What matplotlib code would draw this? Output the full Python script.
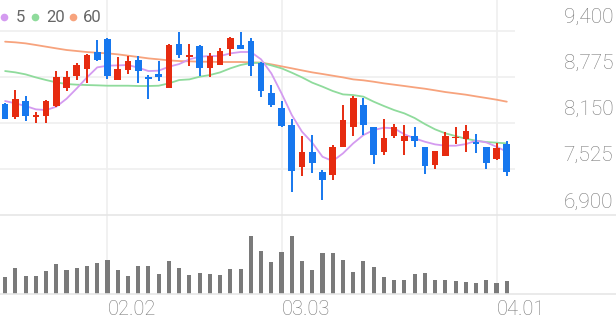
import matplotlib.pyplot as plt
from matplotlib.lines import Line2D
import numpy as np

plt.rcParams['font.family'] = ['Roboto', 'DejaVu Sans']

# --- Data (daily candles, oldest first) ---
opens = [8410, 8230, 8450, 8230, 8240, 8380, 8630, 8790, 8880, 9110,
         9290, 8730, 8870, 9010, 8780, 8810, 8630, 9220, 9050, 9200,
         8900, 8940, 9160, 9210, 9260, 8960, 8560, 8350, 8130, 7550,
         7760, 7490, 7450, 7830, 8090, 8400, 8090, 7760, 7980, 7900,
         7970, 7830, 7580, 7700, 7940, 7930, 7890, 7830, 7660, 7870]
highs = [8420, 8600, 8520, 8300, 8460, 8860, 8860, 8960, 9090, 9280,
         9300, 9050, 9060, 9060, 8800, 8990, 9220, 9380, 9230, 9210,
         9100, 9170, 9320, 9380, 9310, 8980, 8660, 8450, 8200, 7970,
         7990, 7510, 7850, 8390, 8520, 8490, 8100, 8210, 8140, 8130,
         8100, 7830, 7770, 8030, 8100, 8130, 8000, 7830, 7880, 7900]
lows = [8200, 8200, 8180, 8150, 8150, 8370, 8580, 8740, 8700, 8990,
        8750, 8730, 8820, 8700, 8470, 8720, 8630, 9040, 8930, 8790,
        8780, 8940, 9060, 9160, 8790, 8510, 8370, 8100, 7220, 7430,
        7470, 7110, 7380, 7830, 7970, 7990, 7600, 7720, 7950, 7720,
        7830, 7460, 7520, 7700, 7860, 7760, 7740, 7530, 7650, 7430]
closes = [8210, 8480, 8240, 8260, 8450, 8770, 8780, 8940, 9070, 9010,
          8790, 8880, 8990, 8860, 8750, 8770, 9210, 9080, 9070, 8900,
          9060, 9130, 9310, 9160, 8930, 8580, 8390, 8110, 7500, 7760,
          7610, 7380, 7830, 8190, 8490, 8130, 7710, 7940, 8100, 7980,
          7900, 7570, 7770, 7970, 7960, 8040, 7860, 7610, 7810, 7480]
volumes = [50, 78, 52, 54, 67, 88, 72, 77, 84, 92,
           102, 70, 52, 83, 83, 58, 99, 78, 56, 63,
           60, 56, 75, 74, 173, 129, 95, 126, 172, 98,
           72, 123, 123, 102, 64, 99, 81, 50, 43, 43,
           59, 63, 41, 42, 38, 35, 34, 42, 34, 39]

# moving averages as shown on the chart
ma5 = [8449, 8417, 8381, 8336, 8326, 8372, 8480, 8621, 8770, 8906,
       8929, 8933, 8938, 8902, 8856, 8861, 8915, 8951, 9015, 9051,
       9060, 9060, 9096, 9115, 9115, 9015, 8825, 8553, 8259, 8032,
       7883, 7692, 7634, 7738, 7874, 7987, 8055, 8087, 8078, 7996,
       7942, 7896, 7860, 7842, 7842, 7864, 7910, 7887, 7828, 7760]
ma20 = [8856, 8838, 8811, 8770, 8734, 8702, 8680, 8671, 8666, 8662,
        8657, 8657, 8657, 8653, 8653, 8657, 8689, 8734, 8743, 8779,
        8802, 8838, 8893, 8938, 8965, 8970, 8933, 8893, 8834, 8770,
        8698, 8644, 8585, 8539, 8530, 8508, 8440, 8381, 8326, 8281,
        8218, 8136, 8064, 8010, 7973, 7937, 7910, 7892, 7883, 7874]
ma60 = [9255, 9246, 9232, 9210, 9187, 9164, 9142, 9128, 9114, 9105,
        9096, 9083, 9065, 9047, 9028, 9015, 9001, 8992, 8988, 8983,
        8983, 8979, 8979, 8979, 8974, 8970, 8947, 8920, 8893, 8865,
        8838, 8816, 8793, 8770, 8743, 8730, 8711, 8689, 8671, 8653,
        8634, 8616, 8594, 8571, 8553, 8535, 8512, 8490, 8467, 8440]

price_ticks = [9400, 8775, 8150, 7525, 6900]
date_idx = [10, 27, 48]
date_labels = ['02.02', '03.03', '04.01']
ma_names = ['5', '20', '60']

# --- Colors ---
UP = '#e62b10'
DOWN = '#1677ee'
MA_COLORS = ['#d49bf0', '#8fdb9c', '#f7a37d']
GRID = '#efefef'
TEXT = '#777777'

fig = plt.figure(figsize=(6.16, 3.21), dpi=100)
ax = fig.add_axes([0, 0.330, 0.836, 0.670])
axv = fig.add_axes([0, 0.084, 0.836, 0.246], sharex=ax)

x = np.arange(len(opens))
o = np.array(opens); c = np.array(closes)
h = np.array(highs); l = np.array(lows)
colors = [UP if cc >= oo else DOWN for oo, cc in zip(o, c)]

# grid
for p in price_ticks[:-1]:
    ax.axhline(p, color=GRID, lw=1.2, zorder=0)
for d in date_idx:
    ax.axvline(d, color=GRID, lw=1.2, zorder=0)
    axv.axvline(d, color=GRID, lw=1.2, zorder=0)

# moving averages
for vals, col in zip([ma60, ma20, ma5], MA_COLORS[::-1]):
    ax.plot(x, vals, color=col, lw=1.3, zorder=2, solid_capstyle='round')

# candles
ax.vlines(x, l, h, colors=colors, lw=1.4, zorder=3)
body = np.maximum(np.abs(c - o), 12)
ax.bar(x, body, bottom=np.minimum(o, c), width=0.65, color=colors, zorder=4)

ax.set_xlim(-0.5, 49.8)
ax.set_ylim(6900, 9821)
ax.axis('off')

# price labels on the right
for p in price_ticks:
    ax.annotate(f'{p:,}', xy=(1, p), xycoords=('figure fraction', 'data'),
                xytext=(-2, 9.5), textcoords='offset points',
                ha='right', va='center', fontsize=15, fontweight='light',
                color=TEXT)

# legend
circ_x = [0.0065, 0.057, 0.118]
text_x = [0.026, 0.075, 0.134]
for cx, tx, name, col in zip(circ_x, text_x, ma_names, MA_COLORS):
    fig.add_artist(Line2D([cx], [0.947], marker='o', ms=5.5, color=col,
                          markeredgewidth=0, transform=fig.transFigure))
    fig.text(tx, 0.946, name, color='#666666', fontsize=12,
             ha='left', va='center')

# volume
axv.bar(x, volumes, width=0.4, color='#7a7a7a', zorder=2)
axv.set_ylim(0, 234)
axv.axis('off')
for d, lab in zip(date_idx, date_labels):
    axv.annotate(lab, xy=(d, 0), xycoords='data', xytext=(0, -11),
                 textcoords='offset points', ha='left', va='center',
                 fontsize=14.5, fontweight='light', color=TEXT)

# separator lines across the full width
for yy in [0.330, 0.084]:
    fig.add_artist(Line2D([0, 1], [yy, yy], transform=fig.transFigure,
                          color='#e6e6e6', lw=1.2))

fig.savefig('out.png', dpi=100)
